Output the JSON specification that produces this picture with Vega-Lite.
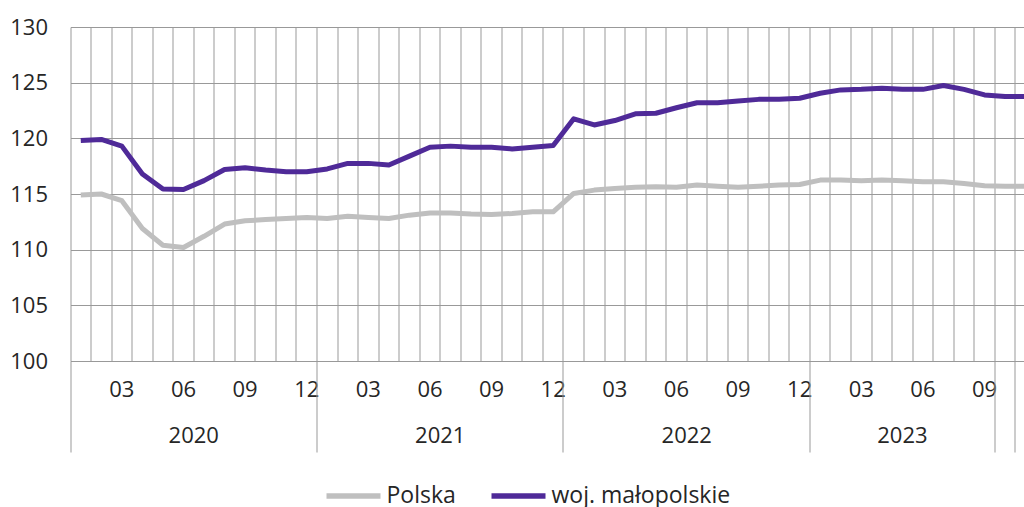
{
  "$schema": "https://vega.github.io/schema/vega-lite/v6.json",
  "width": 953.5,
  "height": 334,
  "autosize": {"type": "none"},
  "padding": {"left": 70.5, "top": 27, "right": 0, "bottom": 146},
  "background": "white",
  "config": {
    "view": {"stroke": null},
    "font": "Open Sans",
    "axis": {"labelFont": "Open Sans", "labelColor": "#262626", "labelFontSize": 22, "labelFontWeight": "normal"},
    "legend": {"labelFont": "Open Sans", "labelColor": "#262626", "labelFontSize": 23, "labelLimit": 400}
  },
  "data": {
    "values": [
      {"m": "2020-01", "pl": 114.9, "mp": 119.8},
      {"m": "2020-02", "pl": 115.0, "mp": 119.9},
      {"m": "2020-03", "pl": 114.4, "mp": 119.3},
      {"m": "2020-04", "pl": 111.9, "mp": 116.8},
      {"m": "2020-05", "pl": 110.4, "mp": 115.45},
      {"m": "2020-06", "pl": 110.2, "mp": 115.4},
      {"m": "2020-07", "pl": 111.2, "mp": 116.2},
      {"m": "2020-08", "pl": 112.3, "mp": 117.2},
      {"m": "2020-09", "pl": 112.6, "mp": 117.35},
      {"m": "2020-10", "pl": 112.7, "mp": 117.15},
      {"m": "2020-11", "pl": 112.8, "mp": 117.0},
      {"m": "2020-12", "pl": 112.9, "mp": 117.0},
      {"m": "2021-01", "pl": 112.8, "mp": 117.25},
      {"m": "2021-02", "pl": 113.0, "mp": 117.75},
      {"m": "2021-03", "pl": 112.9, "mp": 117.75},
      {"m": "2021-04", "pl": 112.8, "mp": 117.6},
      {"m": "2021-05", "pl": 113.1, "mp": 118.4},
      {"m": "2021-06", "pl": 113.3, "mp": 119.2},
      {"m": "2021-07", "pl": 113.3, "mp": 119.3},
      {"m": "2021-08", "pl": 113.2, "mp": 119.2},
      {"m": "2021-09", "pl": 113.15, "mp": 119.2},
      {"m": "2021-10", "pl": 113.25, "mp": 119.05},
      {"m": "2021-11", "pl": 113.4, "mp": 119.2},
      {"m": "2021-12", "pl": 113.4, "mp": 119.35},
      {"m": "2022-01", "pl": 115.05, "mp": 121.75},
      {"m": "2022-02", "pl": 115.35, "mp": 121.2},
      {"m": "2022-03", "pl": 115.5, "mp": 121.6},
      {"m": "2022-04", "pl": 115.6, "mp": 122.2},
      {"m": "2022-05", "pl": 115.65, "mp": 122.25},
      {"m": "2022-06", "pl": 115.6, "mp": 122.75},
      {"m": "2022-07", "pl": 115.8, "mp": 123.2},
      {"m": "2022-08", "pl": 115.7, "mp": 123.2},
      {"m": "2022-09", "pl": 115.6, "mp": 123.35},
      {"m": "2022-10", "pl": 115.7, "mp": 123.5},
      {"m": "2022-11", "pl": 115.8, "mp": 123.5},
      {"m": "2022-12", "pl": 115.85, "mp": 123.6},
      {"m": "2023-01", "pl": 116.25, "mp": 124.05},
      {"m": "2023-02", "pl": 116.25, "mp": 124.35},
      {"m": "2023-03", "pl": 116.2, "mp": 124.4},
      {"m": "2023-04", "pl": 116.25, "mp": 124.5},
      {"m": "2023-05", "pl": 116.2, "mp": 124.4},
      {"m": "2023-06", "pl": 116.1, "mp": 124.4},
      {"m": "2023-07", "pl": 116.1, "mp": 124.75},
      {"m": "2023-08", "pl": 115.95, "mp": 124.4},
      {"m": "2023-09", "pl": 115.75, "mp": 123.9},
      {"m": "2023-10", "pl": 115.7, "mp": 123.75},
      {"m": "2023-11", "pl": 115.7, "mp": 123.75}
    ]
  },
  "resolve": {"axis": {"x": "independent"}},
  "layer": [
    {
      "transform": [{"fold": ["pl", "mp"], "as": ["s", "v"]}],
      "mark": {"type": "line", "strokeWidth": 5, "strokeJoin": "round", "strokeCap": "butt"},
      "encoding": {
        "x": {
          "field": "m", "type": "ordinal",
          "scale": {"type": "band", "paddingInner": 0, "paddingOuter": 0, "range": [0, 965.4]},
          "axis": {
            "orient": "bottom", "title": null, "bandPosition": 0,
            "grid": true, "gridColor": "#999999", "gridWidth": 1,
            "ticks": false, "domain": false,
            "labelAngle": 0, "labelOffset": 0, "labelPadding": 18,
            "labelOverlap": false, "labelBound": false, "labelFlush": false,
            "labelExpr": "indexof(['03','06','09','12'], substring(datum.value,5,7)) >= 0 ? substring(datum.value,5,7) : ''"
          }
        },
        "y": {
          "field": "v", "type": "quantitative",
          "scale": {"domain": [100, 130], "nice": false, "zero": false},
          "axis": {
            "title": null, "values": [100, 105, 110, 115, 120, 125, 130],
            "grid": true, "gridColor": "#999999", "gridWidth": 1,
            "ticks": false, "domain": false, "labelPadding": 23, "labelFlush": false
          }
        },
        "color": {
          "field": "s", "type": "nominal",
          "scale": {"domain": ["pl", "mp"], "range": ["#BFBFBF", "#4F2A98"]},
          "legend": {
            "title": null, "orient": "none", "direction": "horizontal",
            "legendX": 253, "legendY": 439,
            "labelExpr": "datum.value === 'pl' ? 'Polska' : 'woj. małopolskie'",
            "symbolType": "stroke", "symbolSize": 2916, "symbolStrokeWidth": 5.5,
            "labelOffset": 3, "columnPadding": 24
          }
        }
      }
    },
    {
      "mark": {"type": "point", "opacity": 0},
      "encoding": {
        "x": {
          "field": "m", "type": "ordinal",
          "scale": {"type": "band", "paddingInner": 0, "paddingOuter": 0, "range": [0, 965.4]},
          "axis": {
            "orient": "bottom", "title": null, "bandPosition": 0,
            "values": ["2020-01", "2021-01", "2022-01", "2023-01", "2023-10", "2023-11"],
            "grid": false, "domain": false, "labels": false,
            "ticks": true, "tickSize": 91, "tickColor": "#999999", "tickWidth": 1
          }
        }
      }
    },
    {
      "mark": {"type": "point", "opacity": 0},
      "encoding": {
        "x": {
          "field": "m", "type": "ordinal",
          "scale": {"type": "band", "paddingInner": 0, "paddingOuter": 0, "range": [0, 965.4]},
          "axis": {
            "orient": "bottom", "title": null,
            "values": ["2020-06", "2021-06", "2022-06", "2023-05"],
            "grid": false, "domain": false, "ticks": false,
            "labelAngle": 0, "labelPadding": 64,
            "labelOffset": {"condition": {"test": "datum.value === '2023-05'", "value": 0}, "value": 10.27},
            "labelOverlap": false, "labelBound": false, "labelFlush": false,
            "labelExpr": "substring(datum.value,0,4)"
          }
        }
      }
    }
  ]
}
